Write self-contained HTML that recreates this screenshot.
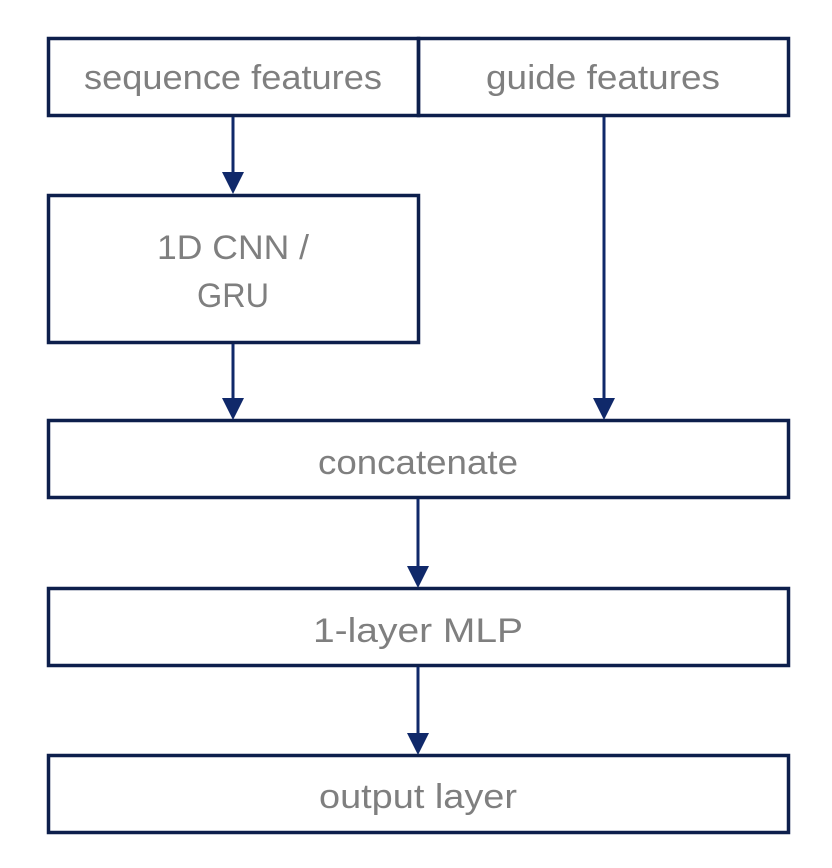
<!DOCTYPE html>
<html><head><style>html,body{margin:0;padding:0;background:#fff}svg{display:block}</style></head>
<body>
<svg width="832" height="868" viewBox="0 0 832 868" xmlns="http://www.w3.org/2000/svg">
<g fill="none" stroke="#0d1f4c" stroke-width="3.5">
<rect x="48.5" y="38.5" width="370" height="77"/>
<rect x="418.5" y="38.5" width="370" height="77"/>
<rect x="48.5" y="195.5" width="370" height="147"/>
<rect x="48.5" y="420.5" width="740" height="77"/>
<rect x="48.5" y="588.5" width="740" height="77"/>
<rect x="48.5" y="755.5" width="740" height="77"/>
</g>
<g stroke="#10296a" stroke-width="3">
<line x1="233" y1="117" x2="233" y2="175"/>
<line x1="233" y1="344" x2="233" y2="400"/>
<line x1="604" y1="117" x2="604" y2="400"/>
<line x1="418" y1="499" x2="418" y2="568"/>
<line x1="418" y1="667" x2="418" y2="735"/>
</g>
<g fill="#10296a">
<polygon points="222,172 244,172 233,194"/>
<polygon points="222,398 244,398 233,420"/>
<polygon points="593,398 615,398 604,420"/>
<polygon points="407,566 429,566 418,588"/>
<polygon points="407,733 429,733 418,755"/>
</g>
<g fill="#7f7f7f" font-family="Liberation Sans, sans-serif" font-size="34" text-anchor="middle">
<text x="233" y="89" textLength="298" lengthAdjust="spacingAndGlyphs">sequence features</text>
<text x="603" y="89" textLength="234" lengthAdjust="spacingAndGlyphs">guide features</text>
<text x="233" y="259" textLength="152" lengthAdjust="spacingAndGlyphs">1D CNN /</text>
<text x="233" y="307" textLength="72" lengthAdjust="spacingAndGlyphs">GRU</text>
<text x="418" y="474" textLength="200" lengthAdjust="spacingAndGlyphs">concatenate</text>
<text x="418" y="642" textLength="210" lengthAdjust="spacingAndGlyphs">1-layer MLP</text>
<text x="418" y="808" textLength="198" lengthAdjust="spacingAndGlyphs">output layer</text>
</g>
</svg>
</body></html>
